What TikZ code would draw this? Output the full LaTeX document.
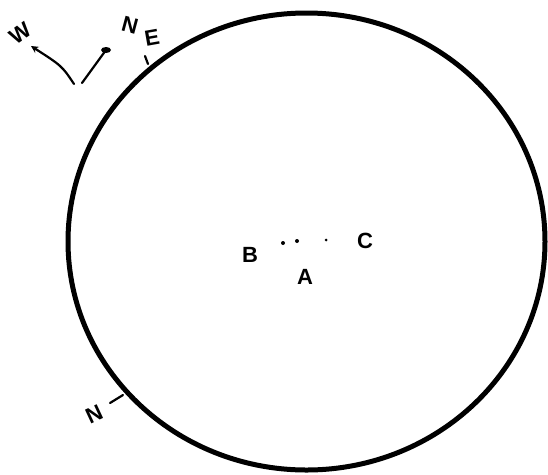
\documentclass[tikz,border=0pt]{standalone}
\usepackage{fontspec}
\setmainfont{Liberation Sans}
\usetikzlibrary{calc}

\tikzset{
  pen/.style={line width=2.2pt,line cap=round},
  hand/.style={outer sep=0pt,inner sep=0pt,font=\fontsize{22}{26}\selectfont\bfseries}
}

\begin{document}
\begin{tikzpicture}[x=1pt,y=-1pt]
\useasboundingbox (0,0) rectangle (548,474);

% the big circle
\draw [line width=5pt] (306.5,241.5) ellipse [x radius=238.5, y radius=228.5];

% compass in the top left
\node[hand,rotate=35] (w) at (20,33) {W};
\coordinate (wtail) at (74,84);
\coordinate (wtip) at (31,46);
\draw [pen,-stealth] (wtail) .. controls (62,66) .. (wtip);

\coordinate (ntail) at (82,83);
\coordinate (nhead) at (106,50);
\draw [pen] (ntail) -- (nhead);
\fill (nhead) ellipse [x radius=5, y radius=3];
\node[hand,rotate=-15] (ntop) at (130,25) {N};

\node[hand,rotate=10] (e) at (152,38) {E};
\draw [pen] (145,56) -- (148,64);

% marker at the bottom left
\node[hand,rotate=25] (nbot) at (94,414) {N};
\draw [pen] (110,403) -- (123,395);

% points in the middle
\node[hand] (b) at (250,255) {B};
\node[hand] (c) at (365,241) {C};
\node[hand] (a) at (305,277) {A};
\fill (283,243) circle [radius=2];
\fill (297,241) circle [radius=2];
\fill (326,240) circle [radius=1.5];

\end{tikzpicture}
\end{document}
